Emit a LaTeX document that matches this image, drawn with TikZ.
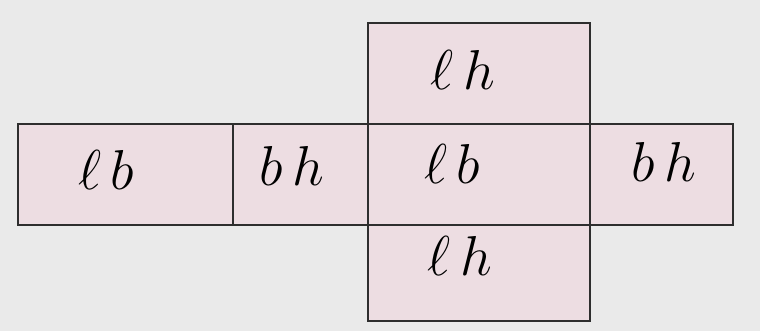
\documentclass[tikz,border=0pt]{standalone}
\usepackage{fix-cm}
\definecolor{papier}{HTML}{EAEAEA}
\definecolor{rose}{HTML}{EDDDE2}
\definecolor{trait}{HTML}{2E2E2E}
\tikzset{face/.style={fill=rose}, lettre/.style={font=\fontsize{40}{42}\selectfont}}

\begin{document}
\begin{tikzpicture}[x=0.025cm,y=-0.025cm,line width=1.3pt]
  \fill[papier] (0,0) rectangle (760,331);
  % bande verticale et bande horizontale du patron
  \fill[face] (368,23) rectangle (590,321);
  \fill[face] (18,124) rectangle (733,225);
  \draw[trait] (368,23) rectangle (590,321);
  \draw[trait] (18,124) rectangle (733,225);
  \draw[trait] (233,124) -- (233,225);
  % faces
  \node[lettre] (haut) at (463,70) {$\ell\,h$};
  \node[lettre] (gauche) at (106,170) {$\ell\,b$};
  \node[lettre] (cote1) at (292,166) {$b\,h$};
  \node[lettre] (milieu) at (452,164) {$\ell\,b$};
  \node[lettre] (cote2) at (664,162) {$b\,h$};
  \node[lettre] (bas) at (460,256) {$\ell\,h$};
\end{tikzpicture}
\end{document}
